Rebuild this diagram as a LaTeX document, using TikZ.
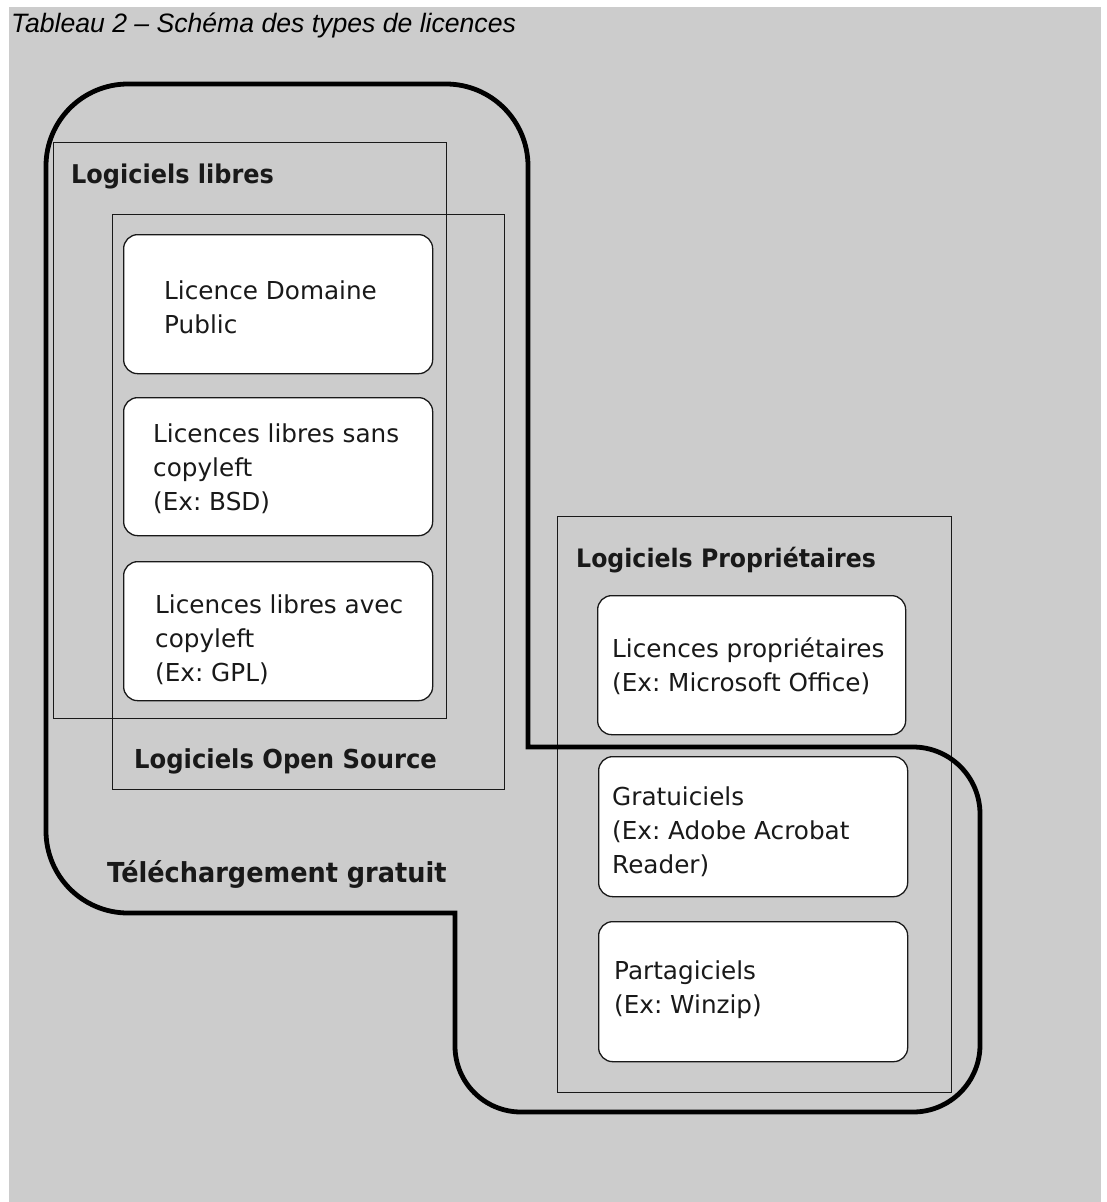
\documentclass[tikz,border=0pt]{standalone}
\usepackage{fontspec}
\setmainfont{DejaVu Sans}
\newfontfamily\capfont{Liberation Sans}
\newfontfamily\labfont[FakeStretch=0.93]{DejaVu Sans}
\definecolor{bggray}{RGB}{204,204,204}
\definecolor{ink}{RGB}{25,25,25}
\newcommand\twol[2]{\vtop{\hbox{#1}\hbox{#2}}}
\newcommand\threel[3]{\vtop{\hbox{#1}\hbox{#2}\hbox{#3}}}
\frenchspacing
\begin{document}
\begin{tikzpicture}[x=1pt,y=-1pt,
  frame/.style={draw=ink, line width=1.3pt, inner sep=0pt, anchor=north west},
  rbox/.style={draw=ink, fill=white, line width=1.3pt, rounded corners=14pt, inner sep=0pt, anchor=north west},
  txt/.style={anchor=base west, inner sep=0pt, text=ink, font=\frenchspacing\fontsize{24.7}{34}\selectfont},
  lab/.style={anchor=base west, inner sep=0pt, text=ink, font=\labfont\bfseries\fontsize{#1}{30}\selectfont},
  outline/.style={line width=4.8pt, black}]
\useasboundingbox (0,0) rectangle (1107,1202);
\fill[white] (0,0) rectangle (1107,1202);
\fill[bggray] (9,7) rectangle (1101,1202);
% caption
\node[anchor=base west, inner sep=0pt, font=\capfont\itshape\fontsize{26.6}{30}\selectfont] (cap) at (11,32.5) {Tableau 2 – Schéma des types de licences};
% frames
\node[frame, minimum width=393pt, minimum height=576pt] (libres) at (53,142) {};
\node[frame, minimum width=392pt, minimum height=575pt] (open) at (112,214) {};
\node[frame, minimum width=394pt, minimum height=576pt] (prop) at (557,516) {};
% rounded boxes
\node[rbox, minimum width=309pt, minimum height=139pt] (b1) at (123,234) {};
\node[rbox, minimum width=309pt, minimum height=138pt] (b2) at (123,397) {};
\node[rbox, minimum width=309pt, minimum height=139pt] (b3) at (123,561) {};
\node[rbox, minimum width=308pt, minimum height=139pt] (b4) at (597,595) {};
\node[rbox, minimum width=309pt, minimum height=140pt] (b5) at (598,756) {};
\node[rbox, minimum width=309pt, minimum height=140pt] (b6) at (598,921) {};
% thick outline (free download)
\draw[outline] (46,166) .. controls (46,120.7) and (82.7,84) .. (128,84)
  -- (446,84) .. controls (491.3,84) and (528,120.7) .. (528,166)
  -- (528,747) -- (913,747) .. controls (950,747) and (980,777) .. (980,814)
  -- (980,1045) .. controls (980,1082) and (950,1112) .. (913,1112)
  -- (521,1112) .. controls (484.5,1112) and (455,1082.5) .. (455,1046)
  -- (455,913) -- (128,913) .. controls (82.7,913) and (46,876.3) .. (46,831)
  -- cycle;
% texts
\node[txt] (t1) at (164,299) {\twol{Licence Domaine}{Public}};
\node[txt] (t2) at (153,442) {\threel{Licences libres sans}{copyleft}{(Ex: BSD)}};
\node[txt] (t3) at (155,613) {\threel{Licences libres avec}{copyleft}{(Ex: GPL)}};
\node[txt] (t4) at (612,657) {\twol{Licences propriétaires}{(Ex: Microsoft Office)}};
\node[txt] (t5) at (612,805) {\threel{Gratuiciels}{(Ex: Adobe Acrobat}{Reader)}};
\node[txt] (t6) at (614,979) {\twol{Partagiciels}{(Ex: Winzip)}};
\node[lab=25.8] (llibres) at (71,183) {Logiciels libres};
\node[lab=26.1] (lopen) at (134,768) {Logiciels Open Source};
\node[lab=25.4] (lprop) at (576,567) {Logiciels Propriétaires};
\node[lab=27.5] (ltele) at (107,882) {Téléchargement gratuit};
\end{tikzpicture}
\end{document}
